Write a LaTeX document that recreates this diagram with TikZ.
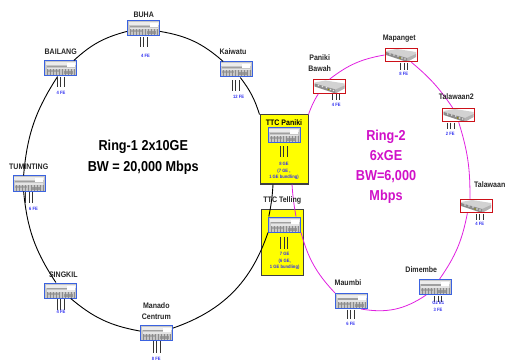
\documentclass[tikz,border=0pt]{standalone}
\usepackage{fontspec}
\setmainfont[FakeStretch=0.88]{Liberation Sans}
\definecolor{ringone}{HTML}{000000}
\definecolor{ringtwo}{HTML}{E020E0}
\definecolor{ringtext}{HTML}{D010C8}
\definecolor{metro}{HTML}{3A62E0}
\definecolor{access}{HTML}{CC1018}
\definecolor{portblue}{HTML}{3030F0}
\definecolor{sitebox}{HTML}{FFFF00}

\tikzset{
 bluedev/.style={draw=metro,line width=1pt,fill=gray!45,minimum width=32pt,minimum height=15pt,inner sep=0pt,
  path picture={
   \begin{scope}[shift={(path picture bounding box.center)}]
   \fill[gray!15] (-15,3) rectangle (15,6);
   \fill[white] (6,1) rectangle (14,5);
   \fill[gray!75] (-14,1.2) rectangle (6,2.6);
   \fill[gray!20] (-14,-1) rectangle (14,0.6);
   \fill[gray!70] (-14,-4) rectangle (-2,-2);
   \fill[gray!80] (3,-6) rectangle (12,-3);
   \foreach \x in {-13,-10,...,14} \draw[gray!90,line width=0.4pt] (\x,-7)--(\x,-1);
   \end{scope}}},
 reddev/.style={draw=access,line width=1pt,fill=white,minimum width=32pt,minimum height=13.5pt,inner sep=0pt,
  path picture={
   \begin{scope}[shift={(path picture bounding box.center)}]
   \fill[gray!35] (-15,4)--(-4,6)--(15,3)--(15,0)--(6,-3)--(-15,1)--cycle;
   \fill[gray!60] (6,-3)--(15,1)--(15,-2)--(6,-7)--cycle;
   \fill[gray!90] (-15,3)--(6,-3)--(6,-7)--(-15,0)--cycle;
   \foreach \x/\y in {-11/1,-7/0,-3/-1,1/-3,4/-4} \fill[gray!20] (\x,\y) circle (0.9);
   \fill[olive] (-1,-3) circle (0.8);
   \end{scope}}},
 yellowsite/.style={draw=black!75,line width=1pt,fill=sitebox,inner sep=0pt},
 sitename/.style={font=\fontsize{8}{9}\selectfont\bfseries,text=black!85,inner sep=0pt},
 fe/.style={font=\fontsize{4.7}{5}\selectfont\bfseries,text=portblue,inner sep=0pt},
 ringlabel/.style={font=\fontsize{14.4}{16}\selectfont\bfseries,inner sep=0pt},
 portline/.style={draw=black!80,line width=0.7pt},
 ringa/.style={draw=ringone,line width=0.9pt},
 ringb/.style={draw=ringtwo,line width=0.8pt}
}

\begin{document}
\begin{tikzpicture}[x=1pt,y=1pt]
\useasboundingbox (0,0) rectangle (506,362);
% yellow sites
\node[yellowsite,minimum width=48pt,minimum height=69pt] (panikibox) at (284,212.5) {};
\node[yellowsite,minimum width=42pt,minimum height=66pt] (tellingbox) at (282,120) {};
% ring 1 sites
\node[bluedev] (buha) at (143.5,333.5) {};
\node[bluedev] (bailang) at (60.5,293.5) {};
\node[bluedev] (kaiwatu) at (236,292.5) {};
\node[bluedev] (tuminting) at (29,178.5) {};
\node[bluedev] (singkil) at (60.5,71.5) {};
\node[bluedev] (manado) at (156.5,29.5) {};
\node[bluedev] (paniki) at (284.3,226.5) {};
\node[bluedev] (telling) at (284.5,137.5) {};
% ring 2 sites
\node[reddev] (bawah) at (329.5,275.5) {};
\node[reddev] (mapanget) at (401,307) {};
\node[reddev] (talawaandua) at (458.7,247) {};
\node[reddev] (talawaan) at (476,156) {};
\node[bluedev] (dimembe) at (435,75) {};
\node[bluedev] (maumbi) at (351.5,61) {};
% ring 1
\draw[ringa] (buha.-10) to[bend left=16] (kaiwatu.148);
\draw[ringa] (kaiwatu.-62) to[bend left=10] (panikibox.north west);
\draw[ringa] ([xshift=-11pt]panikibox.south) to[bend left=4] (telling.153);
\draw[ringa] (telling.south west) to[bend left=26] (manado.15);
\draw[ringa] (manado.175) to[bend left=15] (singkil.-38);
\draw[ringa] (singkil.120) to[bend left=14] (tuminting.236);
\draw[ringa] (tuminting.124) to[bend left=14] (bailang.250);
\draw[ringa] (bailang.31) to[bend left=14] (buha.190);
% ring 2
\draw[ringb] (bawah.north) to[bend left=14] (mapanget.west);
\draw[ringb] (mapanget.-35) to[bend left=8] (talawaandua.130);
\draw[ringb] (talawaandua.south) to[bend left=9] (talawaan.130);
\draw[ringb] (talawaan.220) to[bend left=12] (dimembe.60);
\draw[ringb] (dimembe.222) to[bend left=22] (maumbi.-40);
\draw[ringb] (maumbi.north west) to[bend left=14] (telling.south east);
\draw[ringb] ([xshift=11.5pt]telling.north) to[bend left=3] ([xshift=8pt]panikibox.south);
\draw[ringb] (panikibox.north east) to[bend left=6] (bawah.213);
% port lines under each device
\foreach \n/\d/\g/\l in {buha/0/1/10,bailang/0/0.5/10,kaiwatu/-0.4/3/11,tuminting/0/0.5/11,singkil/0/0.5/11,manado/0/0.5/12,paniki/-0.5/3/11,telling/-0.5/4/12,bawah/6.5/0.5/6,mapanget/3/0.5/7,talawaandua/-8.3/0.5/6,talawaan/3.7/0.5/6,dimembe/3.3/0.5/6.5,maumbi/-0.8/0.5/9.5} {
 \foreach \s in {-3.5,0,3.5} \draw[portline] ([xshift=\d pt+\s pt,yshift=-\g pt]\n.south)--++(0,-\l);
}
% names
\node[sitename] (buhaname) at (143.7,347) {BUHA};
\node[sitename] (bailangname) at (60.7,310.3) {BAILANG};
\node[sitename] (kaiwatuname) at (233,310) {Kaiwatu};
\node[sitename] (tumintingname) at (28.7,195.3) {TUMINTING};
\node[sitename] (singkilname) at (63.3,87) {SINGKIL};
\node[sitename,align=center] (manadoname) at (156.3,50.5) {Manado\\[1.8pt]Centrum};
\node[sitename,text=black] (panikiname) at (284,239.3) {TTC Paniki};
\node[sitename] (tellingname) at (282.3,162) {TTC Telling};
\node[sitename,align=center] (bawahname) at (319.7,298.5) {Paniki\\[1.8pt]Bawah};
\node[sitename] (mapangetname) at (399.3,323.3) {Mapanget};
\node[sitename] (talawaanduaname) at (456.3,265.3) {Talawaan2};
\node[sitename,anchor=east] (talawaanname) at (505.5,177) {Talawaan};
\node[sitename] (dimembename) at (421.3,92) {Dimembe};
\node[sitename] (maumbiname) at (348,79.3) {Maumbi};
% port labels
\node[fe] (buhafe) at (145.5,306) {4 FE};
\node[fe] (bailangfe) at (61,269) {4 FE};
\node[fe] (kaiwatufe) at (238.6,265) {12 FE};
\node[fe] (tumintingfe) at (33.5,153) {6 FE};
\node[fe] (singkilfe) at (61,50) {4 FE};
\node[fe] (manadofe) at (156.3,3) {8 FE};
\node[fe,align=center] (panikife) at (284,191) {8 GE\\[1.5pt](7 GE ,\\[1.5pt]1 GE bundling)};
\node[fe,align=center] (tellingfe) at (284.7,101) {7 GE\\[1.5pt](6 GE,\\[1.5pt]1 GE bundling)};
\node[fe] (bawahfe) at (336.3,257) {4 FE};
\node[fe] (mapangetfe) at (403.7,288) {8 FE};
\node[fe] (talawaanduafe) at (450.3,228) {2 FE};
\node[fe] (talawaanfe) at (479.7,138) {4 FE};
\node[fe] (dimembeport) at (438.3,59) {G2 E1};
\node[fe] (dimembefe) at (438,52) {3 FE};
\node[fe] (maumbife) at (350.7,38) {6 FE};
% ring captions
\node[ringlabel,align=center] (ringonetext) at (143.3,204.5) {Ring-1 2x10GE\\[5pt]BW = 20,000 Mbps};
\node[ringlabel,text=ringtext,align=center] (ringtwotext) at (386,195) {Ring-2\\[4pt]6xGE\\[4pt]BW=6,000\\[4pt]Mbps};
\end{tikzpicture}
\end{document}
